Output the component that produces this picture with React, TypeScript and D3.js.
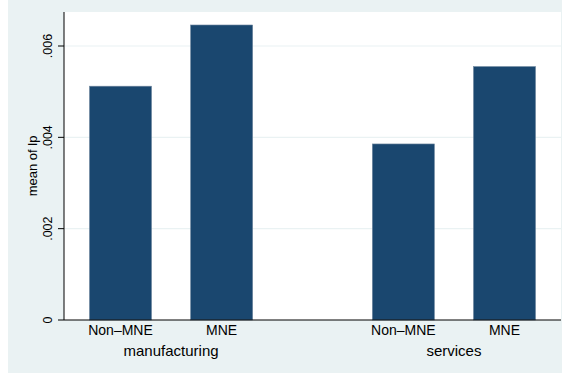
import React from "react";
import * as d3 from "d3";

const groups = ["manufacturing", "services"];
const categories = ["Non\u2013MNE", "MNE"];
const manufacturingValues = [0.00512, 0.00646];
const servicesValues = [0.003855, 0.00555];
const yTicks = [0, 0.002, 0.004, 0.006];
const yTickLabels = ["0", ".002", ".004", ".006"];
const yTitle = "mean of lp";

const seriesByGroup = [manufacturingValues, servicesValues];

export default function App() {
  const W = 565, H = 378;
  const left = 64, right = 561, top = 12, bottom = 320;
  const font = "'Liberation Sans', Arial, sans-serif";

  const y = d3.scaleLinear().domain([0, 0.006]).range([bottom, 46]);
  const xg = d3.scaleBand<string>().domain(groups).range([left, right]).paddingInner(0.423).paddingOuter(0.09);
  const xi = d3.scaleBand<string>().domain(categories).range([0, xg.bandwidth()]).paddingInner(0.386).paddingOuter(0);

  return (
    <svg width={W} height={H} style={{ position: "absolute", left: 0, top: 0 }} fontFamily={font}>
      <rect x={0} y={0} width={W} height={H} fill="#ffffff" />
      <rect x={8} y={0} width={554} height={373} fill="#EAF2F3" />
      <rect x={left} y={top} width={right - left} height={bottom - top} fill="#ffffff" />
      {yTicks.map((t, i) => (
        <g key={i}>
          {i > 0 && <line x1={left} x2={right} y1={y(t)} y2={y(t)} stroke="#EAF2F3" strokeWidth={1.2} />}
          <line x1={58} x2={left} y1={y(t)} y2={y(t)} stroke="#000" strokeWidth={1} />
          <text transform={`translate(52,${y(t)}) rotate(-90)`} textAnchor="middle" fontSize={12.5} fill="#000">
            {yTickLabels[i]}
          </text>
        </g>
      ))}
      {groups.map((g, gi) => (
        <g key={g}>
          {categories.map((c, ci) => {
            const x0 = (xg(g) as number) + (xi(c) as number);
            const v = seriesByGroup[gi][ci];
            return (
              <g key={c}>
                <rect x={x0} y={y(v)} width={xi.bandwidth()} height={bottom - y(v)} fill="#1A476F" stroke="#7189a0" strokeWidth={0.6} />
                <text x={x0 + xi.bandwidth() / 2} y={335} textAnchor="middle" fontSize={14} fill="#000">{c}</text>
              </g>
            );
          })}
          <text x={(xg(g) as number) + xg.bandwidth() / 2} y={356} textAnchor="middle" fontSize={15} fill="#000">{g}</text>
        </g>
      ))}
      <line x1={left} x2={left} y1={top} y2={bottom} stroke="#000" strokeWidth={1} />
      <line x1={left} x2={right} y1={bottom} y2={bottom} stroke="#000" strokeWidth={1} />
      <text transform={`translate(37,${(top + bottom) / 2}) rotate(-90)`} textAnchor="middle" fontSize={13} fill="#000">{yTitle}</text>
    </svg>
  );
}
